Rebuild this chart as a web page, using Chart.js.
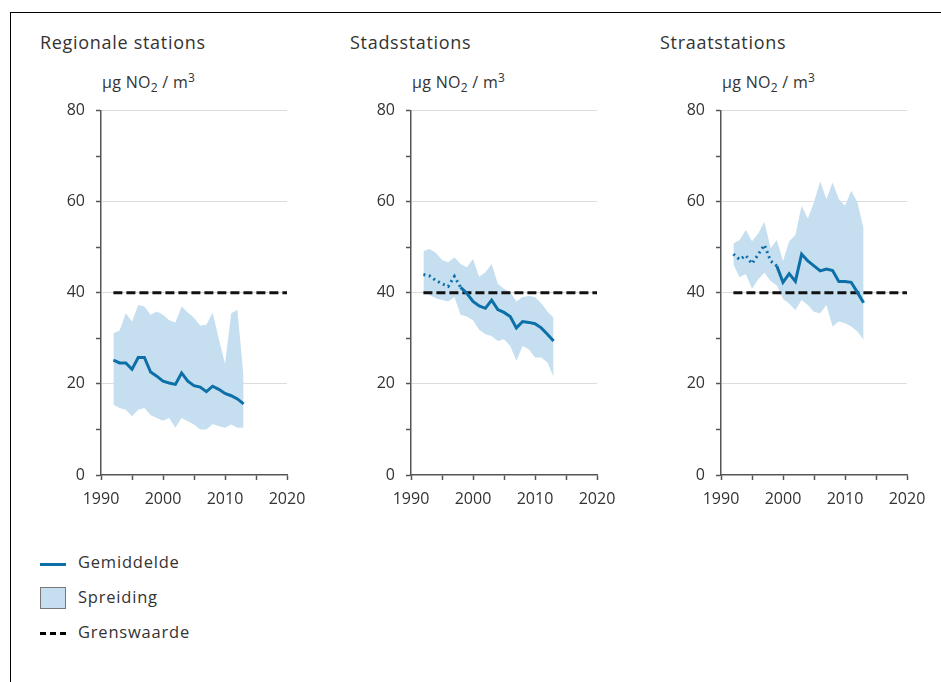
<!DOCTYPE html>
<html>
<head>
<meta charset="utf-8">
<script src="https://cdn.jsdelivr.net/npm/chart.js@4/dist/chart.umd.min.js"></script>
<style>
  body { margin: 0; background: #fff; width: 941px; height: 682px; overflow: hidden; position: relative; font-family: "Open Sans", sans-serif; color: #333; }
  .frame { position: absolute; left: 10px; top: 12px; right: -5px; bottom: -5px; border-left: 1px solid #000; border-top: 1px solid #000; }
  .title { position: absolute; top: 30px; font-size: 18px; letter-spacing: 0.7px; }
  .unit { position: absolute; top: 69px; font-size: 16px; letter-spacing: 0.3px; }
  .unit sub { font-size: 12px; vertical-align: -4px; }
  .unit sup { font-size: 12px; vertical-align: 6px; }
  canvas { position: absolute; top: 90px; }
  .leg { position: absolute; left: 78px; font-size: 16.5px; letter-spacing: 0.8px; }
</style>
</head>
<body>
<div class="frame"></div>
<div class="title" style="left:40px">Regionale stations</div>
<div class="title" style="left:350px">Stadsstations</div>
<div class="title" style="left:660px">Straatstations</div>
<div class="unit" style="left:102px">µg NO<sub>2</sub> / m<sup>3</sup></div>
<div class="unit" style="left:412px">µg NO<sub>2</sub> / m<sup>3</sup></div>
<div class="unit" style="left:722px">µg NO<sub>2</sub> / m<sup>3</sup></div>
<canvas id="c1" width="270" height="440" style="left:50px"></canvas>
<canvas id="c2" width="270" height="440" style="left:360px"></canvas>
<canvas id="c3" width="270" height="440" style="left:670px"></canvas>

<div style="position:absolute;left:40px;top:563px;width:26px;height:3px;background:#0d6fa8"></div>
<div class="leg" style="top:550px">Gemiddelde</div>
<div style="position:absolute;left:40px;top:587px;width:24px;height:20px;background:#c6dff0;border:1px solid #777"></div>
<div class="leg" style="top:585px">Spreiding</div>
<div style="position:absolute;left:40px;top:632px;width:26px;height:3px;background:repeating-linear-gradient(90deg,#000 0 6px,transparent 6px 10px)"></div>
<div class="leg" style="top:620px">Grenswaarde</div>

<script>
var years = [1992, 1993, 1994, 1995, 1996, 1997, 1998, 1999, 2000, 2001, 2002,
  2003, 2004, 2005, 2006, 2007, 2008, 2009, 2010, 2011, 2012, 2013];
var limitValue = 40;
var limitYears = [1992, 2020];

// Regionale stations
var regMean = [25.2, 24.6, 24.6, 23.2, 25.8, 25.8, 22.6, 21.7, 20.6, 20.2, 19.9,
  22.4, 20.6, 19.6, 19.3, 18.3, 19.5, 18.8, 17.9, 17.4, 16.7, 15.6];
var regHigh = [31.1, 31.7, 35.5, 33.7, 37.3, 37.0, 35.2, 35.9, 35.2, 34.0, 33.5,
  37.0, 35.7, 34.5, 32.8, 33.0, 35.7, 29.9, 24.4, 35.5, 36.3, 21.5];
var regLow = [15.4, 14.7, 14.3, 12.9, 14.3, 14.7, 13.1, 12.5, 11.9, 12.5, 10.4,
  12.5, 11.8, 11.1, 10.0, 10.0, 11.2, 10.7, 10.4, 11.1, 10.4, 10.4];

// Stadsstations
var stadMean = [44.0, 43.7, 42.7, 42.0, 41.4, 43.6, 41.2, 39.9, 38.1, 37.1, 36.6,
  38.4, 36.3, 35.7, 34.8, 32.3, 33.7, 33.5, 33.2, 32.3, 30.9, 29.4];
var stadHigh = [49.2, 49.6, 48.8, 47.2, 46.7, 47.8, 46.3, 45.6, 47.4, 43.5, 44.5,
  46.3, 42.0, 40.9, 40.2, 38.1, 39.1, 39.3, 39.1, 37.7, 35.9, 34.5];
var stadLow = [40.2, 39.5, 38.8, 38.4, 38.1, 39.1, 35.2, 34.8, 34.0, 31.9, 30.9,
  30.5, 29.4, 29.8, 28.3, 25.1, 28.3, 27.6, 25.8, 25.8, 24.7, 21.5];

// Straatstations
var straatMean = [48.5, 47.3, 48.2, 46.4, 48.4, 50.5, 47.0, 45.9, 42.3, 44.2, 42.5,
  48.5, 47.0, 45.9, 44.8, 45.2, 44.9, 42.5, 42.5, 42.3, 40.1, 37.8];
var straatHigh = [50.9, 51.6, 53.8, 51.3, 53.0, 55.6, 49.8, 51.6, 47.0, 51.3, 52.7,
  59.1, 56.3, 59.9, 64.5, 60.6, 64.2, 60.6, 59.1, 62.4, 59.9, 54.1];
var straatLow = [46.2, 43.4, 44.1, 40.9, 43.0, 44.4, 42.6, 41.6, 38.7, 37.6, 36.2,
  38.4, 37.3, 35.8, 35.5, 37.3, 32.6, 33.7, 33.3, 32.6, 31.5, 29.7];

// last year of the dotted part of the mean line (0 = none)
var dottedUntil = [0, 1998, 1999];

function pts(vals) {
  return years.map(function (y, i) { return { x: y, y: vals[i] }; });
}

function makeChart(id, mean, high, low, dotEnd) {
  var ctx = document.getElementById(id);
  return new Chart(ctx, {
    type: "line",
    data: {
      datasets: [
        {
          data: pts(mean),
          borderColor: "#0d6fa8",
          borderWidth: 3,
          pointRadius: 0,
          fill: false,
          order: 0,
          segment: {
            borderDash: function (s) {
              return s.p1.parsed.x <= dotEnd ? [2, 3.5] : undefined;
            }
          }
        },
        {
          data: limitYears.map(function (y) { return { x: y, y: limitValue }; }),
          borderColor: "#111",
          borderWidth: 3,
          borderDash: [9, 4],
          pointRadius: 0,
          fill: false,
          order: 1
        },
        {
          data: pts(high),
          borderWidth: 0,
          borderColor: "rgba(0,0,0,0)",
          backgroundColor: "#c6dff0",
          pointRadius: 0,
          fill: "+1",
          order: 2
        },
        {
          data: pts(low),
          borderWidth: 0,
          borderColor: "rgba(0,0,0,0)",
          pointRadius: 0,
          fill: false,
          order: 3
        }
      ]
    },
    options: {
      responsive: false,
      animation: false,
      layout: { padding: { top: 13, right: 33, left: 0, bottom: 0 } },
      plugins: { legend: { display: false }, tooltip: { enabled: false } },
      scales: {
        x: {
          type: "linear",
          min: 1990,
          max: 2020,
          afterFit: function (s) { s.height = 55; },
          ticks: {
            stepSize: 5,
            autoSkip: false,
            maxRotation: 0,
            padding: 10,
            color: "#333",
            font: { family: "Open Sans", size: 16 },
            callback: function (v) { return v % 10 === 0 ? String(v) : ""; }
          },
          grid: { drawOnChartArea: false, tickLength: 5, tickColor: "#555", tickWidth: 1.5 },
          border: { color: "#555", width: 1.5 }
        },
        y: {
          min: 0,
          max: 80,
          afterFit: function (s) { s.width = 51; },
          ticks: {
            stepSize: 10,
            autoSkip: false,
            padding: 11,
            color: "#333",
            font: { family: "Open Sans", size: 16 },
            callback: function (v) { return v % 20 === 0 ? String(v) : ""; }
          },
          grid: {
            color: function (c) {
              var v = c.tick && c.tick.value;
              return v > 0 && v % 20 === 0 ? "#dcdcdc" : "rgba(0,0,0,0)";
            },
            lineWidth: 1,
            tickLength: 5,
            tickColor: "#555",
            tickWidth: 1.5
          },
          border: { color: "#555", width: 1.5 }
        }
      }
    }
  });
}

makeChart("c1", regMean, regHigh, regLow, dottedUntil[0]);
makeChart("c2", stadMean, stadHigh, stadLow, dottedUntil[1]);
makeChart("c3", straatMean, straatHigh, straatLow, dottedUntil[2]);
</script>
</body>
</html>
